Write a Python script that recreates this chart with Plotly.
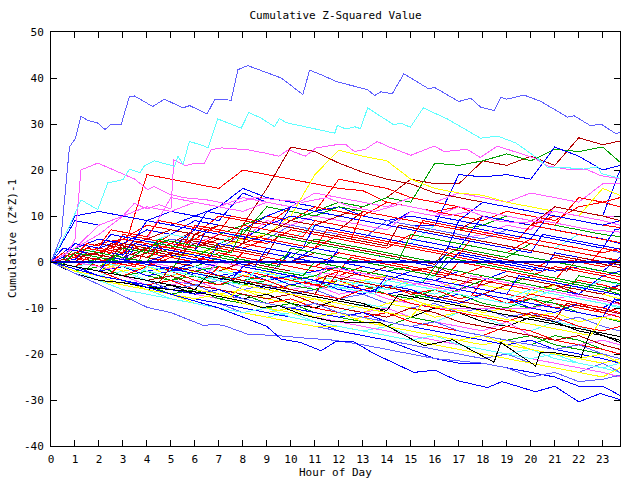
import plotly.graph_objects as go

HOURS = [0, 1, 2, 3, 4, 5, 6, 7, 8, 9, 10, 11, 12, 13, 14, 15, 16, 17, 18, 19, 20, 21, 22, 23, 23.72]
HALF_HOURS = [h * 0.5 for h in range(48)] + [23.72]

X_TICKS = list(range(0, 24))
Y_TICKS = list(range(-40, 51, 10))

COLORS = {
    "B": "#0000ff", "L": "#5f5fff", "C": "#5fffff", "M": "#ff5fff",
    "R": "#ff0000", "D": "#b40000", "G": "#00a000", "Y": "#ffff00", "K": "#000000",
}

# hourly series (values at HOURS)
HIGH_COLORS = ["D", "D", "R", "G", "B", "B", "M", "M", "R", "G", "R", "B", "Y", "L", "M", "D", "C", "B", "R", "G"]
HIGH_VALUES = [
    [0, 2, 1, 3, 5, 4, 7, 6, 8, 16, 25, 24, 21.5, 19.5, 18, 17, 15, 14, 13, 12, 11, 10, 9, 8, 7.5],
    [0, -1, 1, 0, 2, 4, 3, 5, 4, 6, 5, 8, 10, 12, 14, 18, 17, 17, 22, 21, 23, 21, 27, 25.5, 26.3],
    [0, 1, 3, 2, 19, 18, 17, 16, 20, 19, 18, 17, 16, 15.5, 13, 12, 11, 12, 10, 9, 8, 10, 9, 8, 7.5],
    [0, 1, 0, 2, 3, 5, 4, 6, 8, 10, 9, 11, 13, 12, 14, 13, 21.5, 21, 22, 23.5, 22, 24.5, 24, 25, 21.7],
    [0, 10, 11, 10, 9, 11, 10, 9, 15, 13, 12, 11, 12, 10, 9, 8, 8, 19, 18.5, 19, 18, 25, 23, 20, 21],
    [0, 9, 8, 10, 9, 8, 10, 12, 16, 14, 13, 12, 11, 10, 9, 10, 9, 8, 7, 6, 5, 12, 11, 10, 20],
    [0, 2, 1, 3, 5, 14, 13, 12, 11, 13, 12, 15, 14, 13, 12, 14, 13, 15, 14, 13, 15, 14, 13, 17, 17],
    [0, 3, 8, 10, 12, 11, 13, 12, 14, 13, 12, 11, 10, 9, 8, 7, 6, 5, 6, 8, 7, 12, 11, 10, 10],
    [0, 1, 2, 4, 3, 6, 5, 8, 7, 10, 9, 12, 11, 10, 13, 12, 11, 10, 9, 11, 10, 9, 12, 13, 12],
    [0, 1, -1, 2, 1, 3, 5, 4, 6, 12, 11, 10, 12, 11, 10, 9, 8, 7, 8, 10, 9, 8, 7, 6, 5.5],
    [0, 2, 4, 5, 8, 7, 6, 10, 9, 8, 12, 11, 18, 17, 16, 14, 13, 12, 11, 10, 9, 8, 14, 13, 14],
    [0, 3, 5, 4, 7, 6, 9, 8, 7, 10, 12, 11, 10, 9, 8, 11, 10, 9, 13, 12, 11, 10, 9, 8, 9],
    [0, -1, -2, 0, -1, 1, 2, 3, 5, 6, 10, 19, 24.3, 23, 22, 18, 16, 15, 14.5, 13, 12, 11, 10, 16, 14.5],
    [0, 2, 1, 3, 2, 5, 4, 3, 6, 5, 8, 7, 6, 5, 9, 8, 7, 6, 5, 7, 6, 5, 4, 3, 2],
    [0, 1, 2, 1, 3, 2, 4, 6, 5, 9, 8, 10, 9, 8, 7, 11, 10, 12, 11, 10, 9, 11, 10, 9, 8],
    [0, 2, 4, 3, 5, 7, 6, 8, 7, 6, 9, 8, 7, 11, 10, 9, 8, 7, 10, 9, 8, 12, 11, 10, 9],
    [0, 1, 3, 2, 4, 6, 5, 4, 7, 6, 5, 8, 7, 6, 5, 4, 8, 7, 6, 5, 4, 3, 6, 5, 4],
    [0, 4, 3, 5, 4, 3, 7, 6, 5, 8, 10, 9, 8, 7, 6, 5, 4, 3, 10, 9, 8, 7, 6, 5, 4],
    [0, 1, 0, 2, 1, 4, 3, 6, 5, 4, 7, 6, 5, 4, 3, 6, 5, 4, 3, 2, 5, 4, 3, 2, 3],
    [0, 2, 1, 0, 3, 2, 1, 4, 3, 2, 1, 5, 4, 3, 2, 1, 0, 3, 2, 1, 4, 3, 2, 1, 0],
]

MID_COLORS = ["R", "B", "G", "R", "C", "M", "D", "B", "Y", "G", "R", "L", "C", "M", "B", "R", "G", "D",
              "B", "R", "Y", "B", "D", "C", "G", "R"]
MID_VALUES = [
    [0, 2, 3, 2, 4, 3, 5, 4, 3, 5, 4, 3, 6, 5, 4, 3, 2, 1, 0, -1, -2, 1, 0, -1, 0],
    [0, 1, 2, 1, 0, 2, 1, 0, -1, 1, 0, 3, 2, 1, 0, -1, -2, -3, -4, -2, -3, -4, -5, -6, -5],
    [0, -1, 0, 2, 1, 0, -1, 1, 0, -1, 2, 1, 0, -1, -2, -1, -2, -3, -1, -2, -3, -4, -5, -6, -7],
    [0, 1, -1, 0, -1, 1, 0, 2, 1, 0, -1, -2, -3, -1, -2, -3, -4, -5, -3, -4, -5, -6, -4, -5, -6],
    [0, -1, -2, -1, -3, -2, -4, -3, -5, -4, -3, -5, -6, -4, -5, -6, -7, -5, -6, -7, -8, -6, -7, -8, -9],
    [0, -1, 0, 1, 0, -1, -2, 0, -1, -2, -3, -2, -3, -4, -3, -5, -4, -6, -5, -6, -7, -8, -7, -8, -9],
    [0, 1, 2, 3, 2, 1, 4, 3, 2, 1, 0, 2, 1, 0, -1, -2, -1, -3, -4, -5, -6, -5, -7, -8, -9],
    [0, -1, -2, -3, -2, -4, -3, -5, -4, -6, -5, -4, -6, -5, -7, -6, -8, -7, -9, -10, -8, -9, -10, -11, -12],
    [0, -1, -2, -3, -4, -3, -5, -4, -6, -7, -5, -6, -8, -7, -9, -8, -10, -9, -11, -10, -12, -11, -13, -12, -13],
    [0, -1, -2, -1, -3, -4, -2, -3, -5, -4, -6, -5, -7, -6, -5, -7, -8, -6, -7, -9, -10, -8, -9, -11, -12],
    [0, 1, 0, -1, 0, -2, -1, -3, -2, -4, -3, -5, -4, -6, -5, -7, -6, -8, -7, -9, -8, -10, -9, -11, -10],
    [0, -1, -2, -3, -2, -4, -5, -4, -6, -5, -7, -6, -8, -7, -9, -10, -9, -11, -10, -12, -11, -13, -12, -14, -15],
    [0, -2, -3, -2, -4, -3, -2, -4, -3, -5, -4, -6, -5, -4, -6, -5, -3, -4, -5, -3, -4, -5, -6, -4, -5],
    [0, -1, -2, -1, -3, -2, -4, -5, -3, -4, -6, -5, -7, -6, -8, -9, -10, -10, -10, -10, -10, -9, -11, -12, -11],
    [0, 2, 1, 0, -1, -2, 0, -1, -2, -3, 2, 1, 0, -1, -2, -3, -4, -2, -3, -4, -5, -6, -7, -3, -2],
    [0, 3, 2, 5, 4, 3, 2, 1, 4, 3, 2, 1, 0, -1, -2, -3, -4, -5, -6, -7, -8, -9, -10, -11, -12],
    [0, -2, -1, -3, -2, -4, -3, -5, -4, -3, -5, -6, -4, -5, -7, -8, -6, -7, -9, -10, -8, -9, -11, -12, -13],
    [0, 1, 0, 2, 1, 0, -1, -2, 0, -1, -2, -3, -4, -2, -3, -4, -5, -6, -7, -5, -6, -7, -8, -9, -10],
    [0, 1, 0, -1, -2, -1, -3, -4, -2, -3, -5, -4, -6, -7, -5, -6, -8, -9, -7, -8, -10, -11, -9, -10, -8],
    [0, -1, 1, 3, 2, 1, 0, 3, 2, 1, 0, -1, 2, 1, 0, -1, -2, -3, -1, -2, -3, -1, -2, -3, -4],
    [0, -1, 0, -2, -1, -3, -2, -1, -3, -2, -4, -3, -5, -4, -3, -5, -6, -4, -5, -6, -7, -5, -6, -7, -8],
    [0, -1, -2, -1, -3, -2, -1, -3, -2, -4, -3, -2, -1, -3, -4, -2, -3, 2, 1, 0, -1, -2, -1, -2, 1],
    [0, 1, 2, 1, 3, 2, 1, 0, -1, 1, 0, -1, -2, -3, -1, -2, -3, -4, -5, -3, -4, -5, -6, -7, -5],
    [0, -1, 0, -1, -2, -3, -1, -2, -3, -4, -2, -3, -4, -5, -6, -4, -5, -6, -7, -8, -6, -7, -8, -9, -10],
    [0, 1, 0, 1, 0, -1, -2, -1, -2, -3, -4, -3, -1, -2, -3, -4, -5, -6, -4, -5, -3, -4, -5, -6, -7],
    [0, 2, 1, 0, -1, 2, 1, 0, -1, -2, -3, -4, -2, -3, -4, -5, -6, -7, -8, -9, -7, -8, -9, -10, -11],
]

LOW_COLORS = ["Y", "C", "K", "M", "R", "G", "Y", "C", "L", "B", "Y", "M", "G", "R", "C", "D", "B", "Y", "L"]
LOW_VALUES = [
    [0, -2, -3, -4, -5, -4, -6, -7, -6, -8, -9, -8, -10, -11, -9, -10, -12, -11, -13, -14, -12, -13, -15, -16, -17],
    [0, -1, -3, -4, -5, -6, -5, -7, -8, -7, -9, -10, -11, -9, -10, -12, -13, -11, -12, -14, -15, -13, -14, -16, -17],
    [0, -2, -3, -5, -6, -5, -7, -6, -8, -7, -9, -10, -8, -9, -11, -12, -10, -11, -13, -14, -12, -13, -15, -16, -17],
    [0, -1, -2, -3, -4, -5, -4, -6, -7, -8, -7, -9, -10, -11, -10, -12, -13, -14, -15, -13, -16, -17, -18, -17, -18],
    [0, -1, -2, -3, -1, -2, -4, -5, -3, -4, -6, -7, -8, -6, -7, -9, -10, -11, -12, -13, -11, -12, -14, -15, -14],
    [0, -1, -3, -4, -5, -6, -7, -8, -7, -9, -10, -11, -12, -11, -13, -14, -13, -15, -16, -17, -16, -18, -19, -20, -21],
    [0, -2, -3, -4, -6, -7, -8, -9, -10, -11, -10, -12, -13, -12, -14, -15, -16, -17, -18, -17, -19, -20, -21, -22, -21],
    [0, -2, -4, -5, -6, -8, -9, -10, -11, -12, -11, -13, -14, -15, -14, -16, -17, -18, -19, -20, -19, -21, -22, -23, -24],
    [0, -1, -3, -4, -5, -7, -8, -9, -11, -12, -13, -14, -15, -16, -17, -18, -19, -20, -21, -20, -22, -23, -24, -22, -24],
    [0, -2, -3, -5, -6, -7, -8, -9, -10, -11, -12, -13, -15, -16, -17, -19, -21, -22, -22, -23, -24, -25, -27, -27, -29],
    [0, -2, -4, -5, -6, -7, -9, -10, -11, -12, -13, -14, -14, -15, -16, -17, -18, -19, -20, -21, -22, -23, -24, -25, -23],
    [0, -1, -2, -3, -5, -6, -7, -8, -9, -10, -11, -12, -13, -14, -15, -16, -17, -18, -19, -20, -21, -22, -23, -24, -25],
    [0, -2, -3, -4, -5, -7, -6, -8, -9, -10, -9, -11, -12, -13, -14, -12, -13, -15, -16, -17, -18, -16, -17, -19, -20],
    [0, -1, -2, -4, -5, -4, -6, -7, -8, -9, -8, -10, -11, -12, -11, -13, -14, -15, -16, -14, -15, -17, -18, -19, -20],
    [0, -2, -4, -6, -7, -8, -9, -10, -11, -10, -12, -13, -14, -15, -16, -17, -16, -18, -19, -20, -21, -20, -22, -23, -22],
    [0, -1, -2, -3, -4, -3, -5, -6, -7, -8, -7, -9, -10, -11, -12, -10, -11, -13, -14, -15, -16, -17, -16, -18, -19],
    [0, -1, -3, -4, -5, -6, -7, -6, -8, -9, -10, -11, -12, -11, -13, -14, -15, -16, -17, -18, -17, -19, -20, -21, -22],
    [0, -2, -3, -5, -6, -7, -8, -7, -9, -10, -11, -12, -11, -13, -14, -15, -16, -17, -16, -18, -19, -20, -21, -20, -22],
    [0, -1, -2, -3, -4, -6, -5, -7, -8, -9, -10, -9, -11, -12, -13, -14, -13, -15, -16, -17, -18, -19, -18, -20, -21],
]

# half-hourly series (values at HALF_HOURS) for the dense central band
HALF_COLORS = ["R", "B", "R", "D", "G", "B", "R", "M", "C", "B", "G", "D", "Y", "R", "K", "B", "B", "R", "D", "G"]
HALF_VALUES = [
    [0, 1.5, 1, 0.5, 3, 2.5, 2, 5, 4.5, 4, 3.5, 3, 6, 5.5, 5, 4.5, 8, 7.5, 7, 6.5, 6, 5.5, 9, 8.5, 8, 7.5, 7,
     6.5, 6, 5.5, 5, 9, 8.5, 8, 7.5, 7, 6.5, 6, 5.5, 5, 8, 7.5, 7, 6.5, 6, 5.5, 5, 4.5, 4.2],
    [0, -0.5, 2, 1.5, 1, 0.5, 0, 3, 2.5, 2, 1.5, 1, 0.5, 0, 4, 3.5, 3, 2.5, 2, 1.5, 1, 0.5, 0, -0.5, 3, 2.5,
     2, 1.5, 1, 0.5, 0, -0.5, -1, 2, 1.5, 1, 0.5, 0, -0.5, -1, -1.5, -2, 2, 1.5, 1, 0.5, 0, -0.5, -0.7],
    [0, -0.5, -1, 1, 0.5, 0, -0.5, -1, 3, 2.5, 2, 1.5, 1, 0.5, 0, -0.5, 2, 1.5, 1, 0.5, 0, -0.5, -1, -1.5,
     -2, 1, 0.5, 0, -0.5, -1, -1.5, -2, -2.5, -3, 0, -0.5, -1, -1.5, -2, -2.5, -3, -3.5, -4, -1, -1.5, -2,
     -2.5, -3, -3.2],
    [0, 2, 1.5, 1, 0.5, 4, 3.5, 3, 2.5, 2, 1.5, 5, 4.5, 4, 3.5, 3, 2.5, 2, 1.5, 6, 5.5, 5, 4.5, 4, 3.5, 3,
     2.5, 2, 1.5, 1, 0.5, 0, -0.5, 3, 2.5, 2, 1.5, 1, 0.5, 0, -0.5, -1, -1.5, -2, 1, 0.5, 0, -0.5, -0.6],
    [0, -0.5, -1, -1.5, 1, 0.5, 0, -0.5, -1, -1.5, -2, 2, 1.5, 1, 0.5, 0, -0.5, -1, -1.5, -2, -2.5, -3, 0,
     -0.5, -1, -1.5, -2, -2.5, -3, -3.5, -4, -4.5, -1, -1.5, -2, -2.5, -3, -3.5, -4, -4.5, -5, -5.5, -6,
     -6.5, -3, -3.5, -4, -4.5, -4.7],
    [0, 1, 0.5, 3, 2.5, 2, 1.5, 5, 4.5, 4, 3.5, 3, 2.5, 7, 6.5, 6, 5.5, 5, 4.5, 4, 3.5, 3, 8, 7.5, 7, 6.5, 6,
     5.5, 5, 4.5, 4, 3.5, 3, 2.5, 9, 8.5, 8, 7.5, 7, 6.5, 6, 5.5, 5, 4.5, 4, 3.5, 3, 7, 7.2],
    [0, -0.5, -1, -1.5, -2, -2.5, 0, -0.5, -1, -1.5, -2, -2.5, -3, -3.5, -1, -1.5, -2, -2.5, -3, -3.5, -4,
     -4.5, -5, -5.5, -2, -2.5, -3, -3.5, -4, -4.5, -5, -5.5, -6, -6.5, -7, -7.5, -4, -4.5, -5, -5.5, -6,
     -6.5, -7, -7.5, -8, -8.5, -9, -9.5, -9.7],
    [0, 0.5, 0, -0.5, -1, -1.5, 1, 0.5, 0, -0.5, -1, -1.5, -2, -2.5, 0, -0.5, -1, -1.5, -2, -2.5, -3, -3.5,
     -4, -1, -1.5, -2, -2.5, -3, -3.5, -4, -4.5, -5, -5.5, -6, -6.5, -3, -3.5, -4, -4.5, -5, -5.5, -6, -6.5,
     -7, -7.5, -8, -8.5, -9, -9.2],
    [0, -0.5, -1, -1.5, -2, -2.5, -3, -3.5, -1, -1.5, -2, -2.5, -3, -3.5, -4, -4.5, -5, -2, -2.5, -3, -3.5,
     -4, -4.5, -5, -5.5, -6, -6.5, -7, -4, -4.5, -5, -5.5, -6, -6.5, -7, -7.5, -8, -8.5, -9, -9.5, -6, -6.5,
     -7, -7.5, -8, -8.5, -9, -9.5, -9.7],
    [0, -0.5, -1, -1.5, -2, 1, 0.5, 0, -0.5, -1, -1.5, -2, -2.5, -3, -3.5, -4, -1, -1.5, -2, -2.5, -3, -3.5,
     -4, -4.5, -5, -5.5, -6, -6.5, -3, -3.5, -4, -4.5, -5, -5.5, -6, -6.5, -7, -7.5, -8, -8.5, -9, -9.5,
     -10, -10.5, -11, -11.5, -12, -8, -8.5],
    [0, 0.5, 3, 2.5, 2, 1.5, 1, 0.5, 0, 4, 3.5, 3, 2.5, 2, 1.5, 1, 0.5, 0, -0.5, -1, 3, 2.5, 2, 1.5, 1, 0.5,
     0, -0.5, -1, -1.5, -2, -2.5, -3, 1, 0.5, 0, -0.5, -1, -1.5, -2, -2.5, -3, -3.5, -4, -4.5, -5, -5.5,
     -6, -6.2],
    [0, -0.5, -1, -1.5, -2, -2.5, -3, -3.5, -4, -4.5, -1, -1.5, -2, -2.5, -3, -3.5, -4, -4.5, -5, -5.5, -6,
     -6.5, -7, -3, -3.5, -4, -4.5, -5, -5.5, -6, -6.5, -7, -7.5, -8, -8.5, -9, -9.5, -10, -10.5, -11,
     -11.5, -12, -12.5, -9, -9.5, -10, -10.5, -11, -11.2],
    [0, -0.5, -1, -1.5, -2, -2.5, -3, -3.5, -4, -4.5, -5, -5.5, -6, -6.5, -7, -7.5, -5, -5.5, -6, -6.5, -7,
     -7.5, -8, -8.5, -9, -9.5, -10, -10.5, -11, -11.5, -12, -9, -9.5, -10, -10.5, -11, -11.5, -12, -12.5,
     -13, -13.5, -14, -14.5, -15, -15.5, -16, -12, -12.5, -12.7],
    [0, 0.5, 1, 3, 2.5, 2, 6, 5.5, 5, 4.5, 4, 3.5, 8, 7.5, 7, 6.5, 6, 5.5, 5, 4.5, 4, 3.5, 3, 7, 6.5, 6, 5.5,
     5, 4.5, 4, 3.5, 3, 2.5, 2, 1.5, 5, 4.5, 4, 3.5, 3, 2.5, 2, 1.5, 1, 0.5, 0, 3, 2.5, 2.3],
    [0, -0.5, -1, -1.5, -2, -2.5, -3, -3.5, -4, -4.5, -5, -5.5, -6, -3, -3.5, -4, -4.5, -5, -5.5, -6, -6.5,
     -7, -7.5, -8, -8.5, -9, -9.5, -10, -10.5, -7, -7.5, -8, -8.5, -9, -9.5, -10, -10.5, -11, -11.5, -12,
     -12.5, -13, -13.5, -14, -14.5, -15, -15.5, -16, -16.2],
    [0, 3, 2.5, 2, 1.5, 1, 0.5, 4, 3.5, 3, 2.5, 2, 1.5, 1, 0.5, 0, -0.5, -1, 3, 2.5, 2, 1.5, 1, 0.5, 0,
     -0.5, -1, -1.5, -2, -2.5, -3, -3.5, -4, -4.5, -5, -5.5, -6, -6.5, -7, -3, -3.5, -4, -4.5, -5, -5.5,
     -6, -6.5, -7, -7.2],
    [0, 1, 4, 3.5, 3, 6, 5.5, 5, 9, 8.5, 8, 7.5, 7, 11, 10.5, 10, 9.5, 9, 8.5, 8, 12, 11.5, 11, 10.5, 10,
     9.5, 9, 8.5, 8, 7.5, 7, 6.5, 6, 5.5, 5, 4.5, 4, 3.5, 3, 2.5, 2, 6, 5.5, 5, 4.5, 4, 3.5, 3, 2.8],
    [0, 2, 1.5, 4, 3.5, 7, 6.5, 6, 5.5, 9, 8.5, 8, 7.5, 7, 6.5, 10, 9.5, 9, 8.5, 8, 7.5, 7, 6.5, 6, 5.5, 5,
     11, 10.5, 10, 9.5, 9, 8.5, 8, 7.5, 7, 6.5, 6, 5.5, 5, 4.5, 4, 3.5, 3, 2.5, 2, 1.5, 1, 0.5, 0.3],
    [0, 0.5, 0, 2, 1.5, 1, 4, 3.5, 3, 2.5, 2, 1.5, 6, 5.5, 5, 4.5, 4, 9, 8.5, 8, 7.5, 7, 6.5, 6, 5.5, 5,
     4.5, 4, 3.5, 8, 7.5, 7, 6.5, 6, 5.5, 5, 4.5, 4, 3.5, 3, 2.5, 2, 1.5, 1, 0.5, 0, -0.5, -1, -1.2],
    [0, -0.5, 2, 1.5, 1, 0.5, 3, 2.5, 2, 5, 4.5, 4, 3.5, 3, 2.5, 2, 7, 6.5, 6, 5.5, 5, 4.5, 4, 3.5, 3, 2.5,
     2, 1.5, 1, 0.5, 6, 5.5, 5, 4.5, 4, 3.5, 3, 2.5, 2, 1.5, 1, 0.5, 0, -0.5, -1, -1.5, -2, -2.5, -2.7],
]

# prominent series read at finer resolution
TOP_X = [0, 0.42, 0.77, 1.02, 1.25, 1.53, 1.95, 2.25, 2.5, 2.92, 3.27, 3.48, 4.24, 4.73, 5.5, 5.78, 6.51, 6.82,
         7.51, 7.79, 8.2, 8.7, 9.6, 10.5, 10.78, 11.4, 11.9, 13.18, 13.5, 13.75, 14.23, 14.71, 15.76, 15.97, 17.0,
         17.5, 17.9, 18.47, 18.75, 19.0, 19.72, 20.42, 21.53, 21.8, 22.5, 22.92, 23.55, 23.72]
TOP_Y = [0, 5.5, 25, 26.9, 31.7, 30.8, 30.2, 28.8, 29.9, 29.8, 36.0, 36.1, 33.8, 35.4, 33.5, 34.0, 32.2, 35.3,
         35.2, 41.8, 42.7, 41.7, 40.0, 36.4, 41.7, 40.4, 39.2, 37.5, 36.2, 37.0, 36.6, 40.9, 37.6, 38.0, 34.9,
         35.6, 33.7, 32.9, 35.8, 35.4, 36.3, 34.9, 31.5, 31.8, 29.6, 30.0, 27.9, 28.2]

CYAN_X = [0, 0.7, 1.25, 1.95, 2.37, 3.0, 3.27, 3.7, 3.9, 4.31, 5.15, 5.3, 5.5, 5.77, 6.35, 6.55, 6.95, 7.93, 8.25,
          8.75, 9.32, 9.52, 9.8, 11.83, 11.94, 12.3, 12.66, 12.9, 13.2, 14.3, 14.57, 14.98, 15.52, 16.52, 17.91,
          18.6, 19.37, 20.27, 20.7, 21.5, 22.2, 22.8, 22.95, 23.72]
CYAN_Y = [0, 7, 13.5, 11.4, 17.2, 17.9, 20.2, 19.4, 20.9, 22, 20.8, 23, 21.2, 26.2, 25.3, 24.8, 31.1, 29.1, 32.5,
          31.3, 29.4, 31.2, 30.3, 28, 29.7, 28.9, 29.4, 29, 33.5, 29.8, 30.2, 29.3, 33.5, 31.1, 26.9, 27.4, 25.9,
          22.6, 20.6, 20.5, 20.2, 20.7, 19.2, 18.2]

MAG1_X = [0, 0.7, 1.0, 1.25, 1.95, 2.8, 3.5, 4.03, 4.3, 4.9, 5.5, 6.5, 7.5, 8.5, 9.5, 10.5, 11.5, 12.5, 13.5,
          14.5, 15.5, 16.5, 17.5, 18.5, 19.5, 20.5, 21.5, 22.5, 23.72]
MAG1_Y = [0, 2, 5, 20, 21.5, 19.5, 18, 15.7, 16.4, 14.8, 14, 13.5, 12.5, 14, 13.5, 13, 14, 12, 11, 12.5, 11.5,
          10, 11, 9, 8.5, 9, 8, 7, 6.5]

MAG2_X = [0, 1, 2, 3, 3.48, 4, 4.5, 5.0, 5.12, 5.6, 6.0, 6.4, 6.68, 7.1, 8.2, 8.9, 9.5, 9.9, 10.6, 11.05, 11.9,
          12.3, 12.65, 13.1, 13.6, 14.1, 15.0, 15.97, 16.4, 17.35, 17.9, 18.6, 19.3, 20.1, 20.7, 21.5, 22.3, 22.9,
          23.72]
MAG2_Y = [0, 3, 6, 10, 12.8, 11.5, 12.5, 11.5, 22.2, 20.9, 21.5, 21.5, 24.4, 24.8, 24.4, 23.7, 23, 24.4, 23, 24.8,
          25.5, 25.5, 24, 24.5, 26.2, 25, 23.2, 25.2, 24, 24.5, 22.7, 25.2, 24.1, 22.7, 20.9, 20.2, 20.2, 18.8, 18.1]

BLACK_X = [0, 1, 2, 3, 4, 5, 6, 7, 8, 8.76, 9.5, 10.5, 11.8, 13.75, 15.55, 16.73, 18.47, 18.75, 20.2, 20.4,
           20.96, 22.1, 22.5, 23.05, 23.72]
BLACK_Y = [0, -2.5, -4, -4.5, -5.5, -6, -6.5, -7.5, -8.5, -9.9, -9.5, -11.5, -13, -13.2, -18.2, -16.9, -21.8,
           -17.5, -22.6, -19.7, -19.7, -20.7, -15, -16, -17.5]

BOTTOM_X = [0, 1, 2, 3, 4, 5, 6, 7, 8, 9, 9.6, 10.4, 11.26, 11.9, 12.6, 13.5, 15.13, 16.0, 16.94, 18.2, 18.8,
            20.2, 21.0, 22.0, 22.9, 23.72]
BOTTOM_Y = [0, -1.5, -3, -4, -5.5, -7, -8.5, -10, -12, -14, -16.8, -17.5, -19.3, -17.2, -17.3, -20, -24, -23.5,
            -25.8, -27.3, -26, -28.2, -27, -30.4, -28.6, -29.9]

LOWBLUE_X = [0, 1, 2, 3, 4.03, 5, 6.4, 6.7, 7.2, 8.2, 9.46, 10.5, 11.8, 13, 14, 15, 16, 17, 18, 19, 20, 21, 22,
             23, 23.72]
LOWBLUE_Y = [0, -2.5, -5, -7.5, -9.9, -11, -13.9, -13.5, -13.8, -15.7, -16, -16.5, -17, -18, -19, -20, -21,
             -21.5, -22, -23, -25, -24, -26, -25.5, -24.6]

ZERO_X = [0, 23.72]
ZERO_Y = [0, 0]

fig = go.Figure()


def add(x, y, code, width=1):
    fig.add_trace(go.Scatter(x=x[:len(y)], y=y, mode="lines", line=dict(color=COLORS[code], width=width),
                             hoverinfo="skip", showlegend=False))


for group_vals, group_cols in [(HIGH_VALUES, HIGH_COLORS), (MID_VALUES, MID_COLORS), (LOW_VALUES, LOW_COLORS)]:
    for vals, c in zip(group_vals, group_cols):
        add(HOURS, vals, c)
for vals, c in zip(HALF_VALUES, HALF_COLORS):
    add(HALF_HOURS, vals, c)

add(MAG1_X, MAG1_Y, "M")
add(MAG2_X, MAG2_Y, "M")
add(CYAN_X, CYAN_Y, "C")
add(TOP_X, TOP_Y, "L")
add(BLACK_X, BLACK_Y, "K")
add(LOWBLUE_X, LOWBLUE_Y, "L")
add(BOTTOM_X, BOTTOM_Y, "B")
fig.add_trace(go.Scatter(x=ZERO_X, y=ZERO_Y, mode="lines", line=dict(color="#0000c8", width=1.3),
                         hoverinfo="skip", showlegend=False))

FONT = "DejaVu Sans Mono"
TXT = dict(family=FONT, size=11, color="black")
axis_common = dict(showline=True, linecolor="black", linewidth=1, mirror="ticks", ticks="inside",
                   ticklen=6, tickcolor="black", showgrid=False, zeroline=False, automargin=False,
                   tickfont=TXT)

fig.update_layout(
    width=640, height=480,
    margin=dict(l=51, r=20, t=32, b=34),
    paper_bgcolor="white", plot_bgcolor="white",
    title=dict(text="Cumulative Z-Squared Value", x=0.5, xref="paper", y=0.968, yanchor="middle", font=TXT),
    xaxis=dict(range=[0, 23.72], tickvals=X_TICKS, ticktext=[str(t) for t in X_TICKS],
               ticklabelstandoff=3, **axis_common),
    yaxis=dict(range=[-40, 50], tickvals=Y_TICKS, ticktext=[str(t) for t in Y_TICKS],
               ticklabelstandoff=4, **axis_common),
    annotations=[
        dict(text="Hour of Day", xref="paper", yref="paper", x=0.5, y=-0.063, xanchor="center",
             yanchor="middle", showarrow=False, font=TXT),
        dict(text="Cumulative (Z*Z)-1", xref="paper", yref="paper", x=-0.0685, y=0.5, xanchor="center",
             yanchor="middle", textangle=-90, showarrow=False, font=TXT),
    ],
)

CRISP = ("var s=document.createElement('style');"
         "s.innerHTML='.scatterlayer .js-line{shape-rendering:crispEdges}';"
         "document.head.appendChild(s);")
fig.write_html("out.html", post_script=CRISP)
